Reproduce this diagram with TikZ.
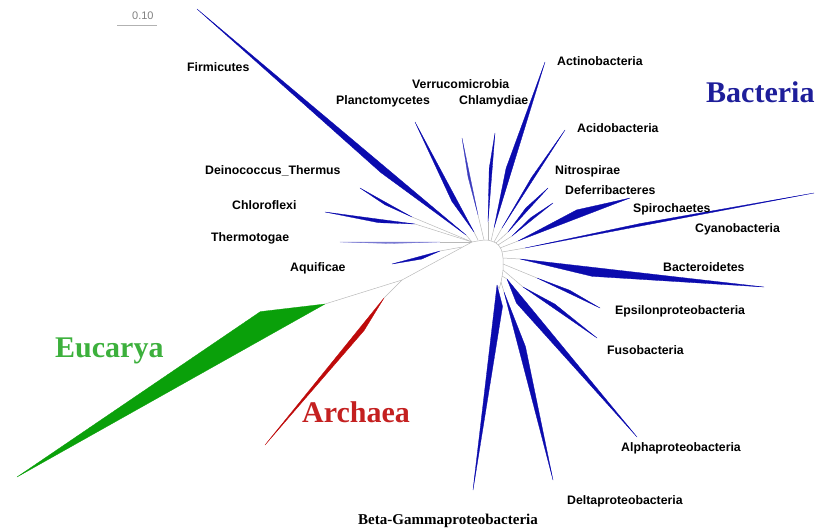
\documentclass[tikz,border=0pt]{standalone}
\usepackage{fontspec}
\setmainfont{Liberation Sans}
\newfontfamily\domainfont{Liberation Serif}
\usepackage{tikz}
\usetikzlibrary{calc}
\definecolor{bactblue}{HTML}{0B0BAE}
\definecolor{eucgreen}{HTML}{0AA00A}
\definecolor{archred}{HTML}{BE0A0A}
\definecolor{bactlab}{HTML}{1E1E9A}
\definecolor{euclab}{HTML}{3CB03C}
\definecolor{archlab}{HTML}{C42020}
\tikzset{
  stem/.style={draw=gray!55, line width=0.5pt},
  clade/.style={line width=0.3pt, line join=round},
  taxon/.style={font=\fontsize{12.3}{14}\selectfont\bfseries, anchor=base west, inner sep=0pt},
  kingdom/.style={font=\domainfont\fontsize{30}{34}\selectfont\bfseries, anchor=base west, inner sep=0pt},
}

\begin{document}
\begin{tikzpicture}[x=1pt, y=-1pt]
\useasboundingbox (0,0) rectangle (818,527);
% scale bar
\coordinate (sbl) at (117,25);
\coordinate (sbr) at (157,25);
\draw[gray!60, line width=0.6pt] (sbl) -- (sbr);
\node[anchor=base west, inner sep=0pt, gray, font=\fontsize{11}{13}\selectfont] (sbtext) at (132,20) {0.10};

% backbone of the tree
\coordinate (root) at (402,280);
\coordinate (hub) at (472,242);
\draw[stem] (root) -- (hub);
\draw[stem] plot[smooth] coordinates {(472,242) (486,240) (496,243) (501,249) (503,258) (503,270) (501,282) (499,289)};

% eucarya and archaea
\coordinate (eucB) at (325,304);
\coordinate (eucT) at (17,477);
\coordinate (arcB) at (384,298);
\coordinate (arcT) at (265,445);
\draw[stem] (root) -- (eucB);
\draw[stem] (root) -- (arcB);
\filldraw[eucgreen, clade] (eucB) -- ($(eucB)!0.17!(eucT)!-25pt!90:(eucT)$) -- (eucT) -- cycle;
\filldraw[archred, clade] (arcB) -- ($(arcB)!0.2!(arcT)!5pt!90:(arcT)$) -- (arcT) -- cycle;

% bacterial clades: hub / clade node / tip / widest part / width / colour
\foreach \hx/\hy/\bx/\by/\tx/\ty/\pos/\wid/\col in {
  472/242/466/235/197/9/0.3/7/bactblue,
  478/240/474/232/415/122/0.3/5/bactblue,
  484/240/478/215/462/138/0.5/2/bactblue!80,
  488/240/488/222/495/133/0.6/3/bactblue,
  491/241/494/228/545/62/0.35/6/bactblue,
  494/242/502/228/565/130/0.5/2.5/bactblue,
  496/243/508/232/548/188/0.5/3/bactblue,
  498/245/512/236/553/203/0.5/2.5/bactblue,
  500/248/518/241/630/198/0.55/8/bactblue,
  502/252/525/248/814/193/0.4/2.5/bactblue,
  503/258/520/259/764/287/0.3/-9/bactblue,
  503/264/537/278/600/308/0.5/3/bactblue,
  503/270/523/287/597/338/0.4/4/bactblue,
  502/276/507/279/637/437/0.12/-8/bactblue,
  501/282/504/292/553/480/0.3/7/bactblue,
  499/288/497/285/473/490/0.1/8/bactblue,
  472/242/412/217/360/188/0.5/2.5/bactblue,
  472/242/415/224/325/212/0.4/3.5/bactblue,
  471/242/440/242/340/242/0.5/1.5/bactblue!55,
  462/247/440/251/392/264/0.4/3/bactblue}{
  \coordinate (ch) at (\hx,\hy);
  \coordinate (cb) at (\bx,\by);
  \coordinate (ct) at (\tx,\ty);
  \draw[stem] (ch) -- (cb);
  \filldraw[\col, clade] (cb) -- ($(cb)!\pos!(ct)!\wid pt!90:(ct)$) -- (ct) -- cycle;
}

% taxon labels
\node[taxon] (firmicutes) at (187,71) {Firmicutes};
\node[taxon] (plancto) at (336,104) {Planctomycetes};
\node[taxon] (verruco) at (412,88) {Verrucomicrobia};
\node[taxon] (chlamydiae) at (459,104) {Chlamydiae};
\node[taxon] (actino) at (557,66) {Actinobacteria};
\node[taxon] (acido) at (577,132) {Acidobacteria};
\node[taxon] (nitro) at (555,174) {Nitrospirae};
\node[taxon] (deferri) at (565,194) {Deferribacteres};
\node[taxon] (spiro) at (633,212) {Spirochaetes};
\node[taxon] (cyano) at (695,232) {Cyanobacteria};
\node[taxon] (bactero) at (663,271) {Bacteroidetes};
\node[taxon] (epsilon) at (615,314) {Epsilonproteobacteria};
\node[taxon] (fuso) at (607,354) {Fusobacteria};
\node[taxon] (alpha) at (621,451) {Alphaproteobacteria};
\node[taxon] (delta) at (567,504) {Deltaproteobacteria};
\node[anchor=base west, inner sep=0pt, font=\domainfont\fontsize{15}{17}\selectfont\bfseries] (betagamma) at (358,524) {Beta-Gammaproteobacteria};
\node[taxon] (deino) at (205,174) {Deinococcus\_Thermus};
\node[taxon] (chloro) at (232,209) {Chloroflexi};
\node[taxon] (thermo) at (211,241) {Thermotogae};
\node[taxon] (aquif) at (290,271) {Aquificae};

% domain labels
\node[kingdom, bactlab] (bacteria) at (706,102) {Bacteria};
\node[kingdom, euclab] (eucarya) at (55,357) {Eucarya};
\node[kingdom, archlab] (archaea) at (302,422) {Archaea};
\end{tikzpicture}
\end{document}
